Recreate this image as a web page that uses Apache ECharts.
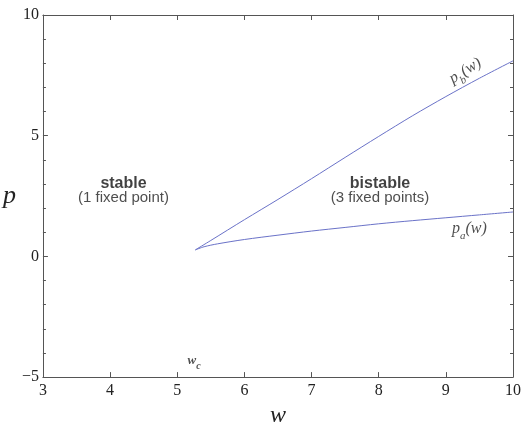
<!DOCTYPE html>
<html><head><meta charset="utf-8">
<script src="https://cdn.jsdelivr.net/npm/echarts@6/dist/echarts.min.js"></script>
<style>html,body{margin:0;padding:0;background:#fff}#c{width:524px;height:433px}</style>
</head><body><div id="c"></div>
<script>
// upper branch p_b(w)
const wUpper = [5.27, 5.5, 6.0, 6.5, 7.0, 7.5, 8.0, 8.5, 9.0, 9.5, 10.0];
const pUpper = [0.27, 0.66, 1.52, 2.36, 3.22, 4.1, 4.97, 5.82, 6.62, 7.38, 8.1];
// lower branch p_a(w)
const wLower = [5.27, 5.4, 5.6, 6.0, 6.5, 7.0, 7.5, 8.0, 8.5, 9.0, 9.5, 10.0];
const pLower = [0.27, 0.4, 0.52, 0.7, 0.88, 1.05, 1.2, 1.35, 1.48, 1.6, 1.72, 1.84];
// annotations
const noteText = ['{b|stable}', '{r|(1 fixed point)}', '{b|bistable}', '{r|(3 fixed points)}',
                  '{i|p}{s|b}{i|(w)}', '{i|p}{s|a}{i|(w)}', '{c|w}{cs|c}'];
const noteW = [4.2, 4.2, 8.02, 8.02, 9.29, 9.35, 5.25];
const noteP = [3.0, 2.41, 3.0, 2.41, 7.69, 1.15, -4.3];
const noteRot = [0, 0, 0, 0, 32, 0, 0];
const xMin = 3, xMax = 10, yMin = -5, yMax = 10;

const zip = (a, b) => a.map((v, i) => [v, b[i]]);
const lineColor = '#6a72c8';
const axisColor = '#555';
const serif = 'Liberation Serif';
const sans = 'Liberation Sans';

const baseTick = {show: true, inside: true, length: 5, lineStyle: {color: axisColor}};
const baseLine = {show: true, onZero: false, lineStyle: {color: axisColor, width: 1}};
const chart = echarts.init(document.getElementById('c'), null, {renderer: 'canvas'});
chart.setOption({
  animation: false,
  backgroundColor: '#fff',
  grid: {left: 40, right: 11, top: 15, bottom: 41, containLabel: false},
  xAxis: [
    {type: 'value', min: xMin, max: xMax, interval: 1, position: 'bottom',
     name: 'w', nameLocation: 'middle', nameGap: 19,
     nameTextStyle: {fontFamily: serif, fontStyle: 'italic', fontSize: 24, color: '#222'},
     axisLine: baseLine, axisTick: baseTick, splitLine: {show: false},
     axisLabel: {fontFamily: serif, fontSize: 16, color: '#222', margin: 6}},
    {type: 'value', min: xMin, max: xMax, interval: 1, position: 'top',
     axisLine: baseLine, axisTick: baseTick, splitLine: {show: false}, axisLabel: {show: false}}
  ],
  yAxis: [
    {type: 'value', min: yMin, max: yMax, interval: 5, position: 'left',
     name: 'p', nameLocation: 'middle', nameGap: 14, nameRotate: 0,
     nameTextStyle: {fontFamily: serif, fontStyle: 'italic', fontSize: 26, color: '#222'},
     axisLine: baseLine, axisTick: baseTick,
     minorTick: {show: true, splitNumber: 5, length: 3, lineStyle: {color: axisColor}},
     splitLine: {show: false},
     axisLabel: {fontFamily: serif, fontSize: 16, color: '#222', margin: 4,
                 formatter: v => (v < 0 ? '\u2212' + (-v) : String(v))}},
    {type: 'value', min: yMin, max: yMax, interval: 5, position: 'right',
     axisLine: baseLine, axisTick: baseTick,
     minorTick: {show: true, splitNumber: 5, length: 3, lineStyle: {color: axisColor}},
     splitLine: {show: false}, axisLabel: {show: false}}
  ],
  series: [
    {type: 'line', xAxisIndex: 0, yAxisIndex: 0, data: zip(wUpper, pUpper), smooth: 0.3,
     showSymbol: false, lineStyle: {color: lineColor, width: 1}},
    {type: 'line', xAxisIndex: 0, yAxisIndex: 0, data: zip(wLower, pLower), smooth: 0.3,
     showSymbol: false, lineStyle: {color: lineColor, width: 1}},
    {type: 'scatter', xAxisIndex: 0, yAxisIndex: 0, symbolSize: 0, silent: true,
     data: noteText.map((t, i) => ({value: [noteW[i], noteP[i]],
       label: {show: true, position: 'inside', formatter: t, rotate: noteRot[i],
         rich: {
           b: {fontFamily: sans, fontWeight: 'bold', fontSize: 16, color: '#111'},
           r: {fontFamily: sans, fontSize: 15, color: '#222'},
           i: {fontFamily: serif, fontStyle: 'italic', fontSize: 16, color: '#222', lineHeight: 18},
           s: {fontFamily: serif, fontStyle: 'italic', fontSize: 11, color: '#222', padding: [14, 0, 0, 0]},
           c: {fontFamily: serif, fontStyle: 'italic', fontWeight: 'bold', fontSize: 13, color: '#222', lineHeight: 16},
           cs: {fontFamily: serif, fontStyle: 'italic', fontWeight: 'bold', fontSize: 10, color: '#222', padding: [12, 0, 0, 0]}
         }}}))}
  ]
});
</script></body></html>
